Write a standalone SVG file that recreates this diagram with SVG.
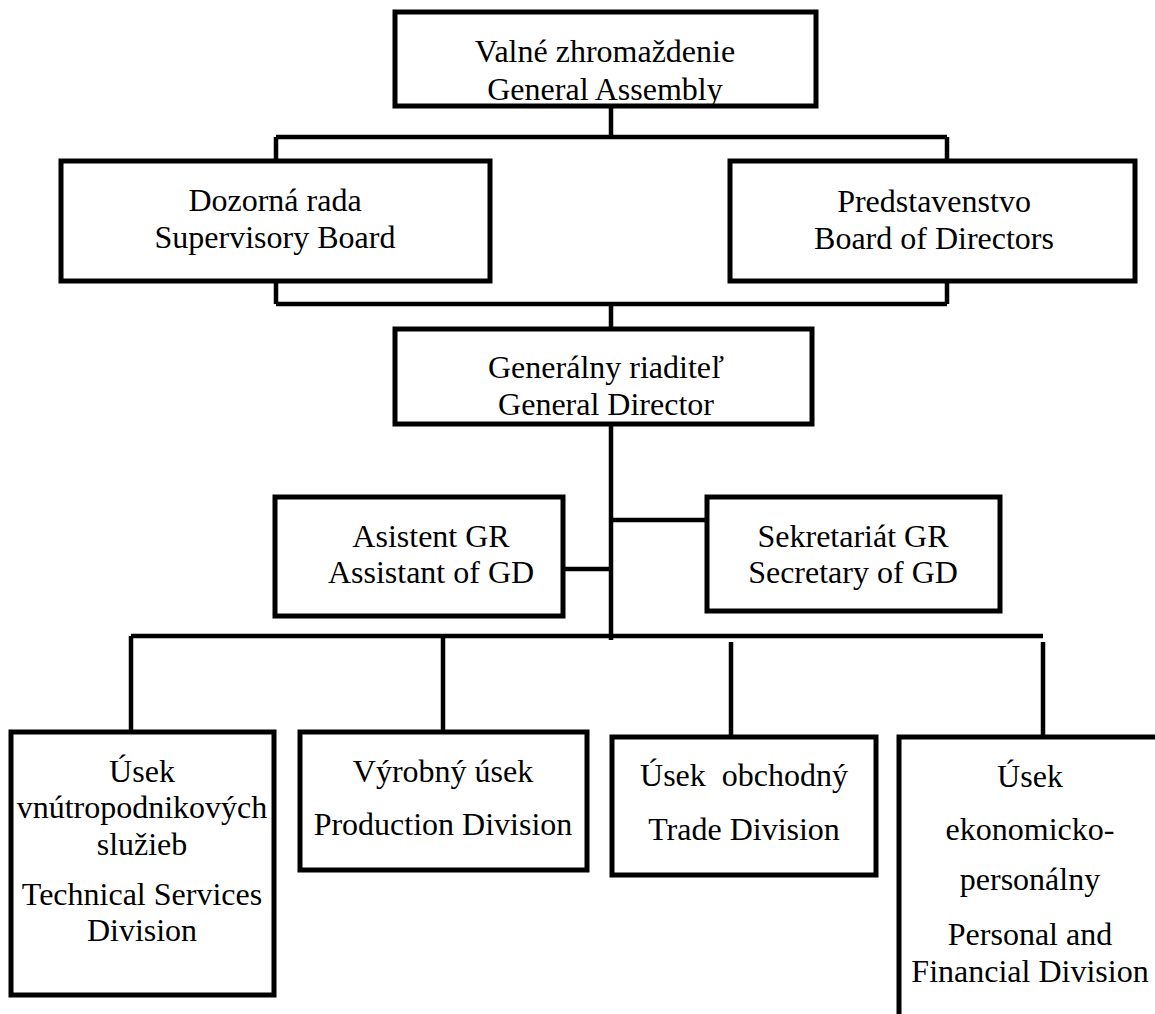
<svg xmlns="http://www.w3.org/2000/svg" width="1155" height="1014" viewBox="0 0 1155 1014" font-family="'Liberation Serif', 'DejaVu Serif', serif">
<style>
.box{fill:#fff;stroke:#000;stroke-width:5}
.c{fill:none;stroke:#000;stroke-width:4.5}
text{font-family:'Liberation Serif', 'DejaVu Serif', serif;font-size:32px;fill:#000;text-anchor:middle}
</style>
<rect width="1155" height="1014" fill="#fff"/>
<g id="connectors">
<path class="c" d="M611 106V137M276 137H947M276 137V161M947 137V161"/>
<path class="c" d="M276 281V304M947 281V304M276 304H947M611 304V329"/>
<path class="c" d="M611 424V640M563 569H611M611 520H707"/>
<path class="c" d="M131 636H1043M131 636V732M443 636V732M731 642V737M1043 642V737"/>
</g>
<g id="general-assembly">
<rect class="box" x="395" y="12" width="421" height="94"/>
<text x="605" y="62" font-family="Liberation Serif, serif">Valné zhromaždenie</text>
<text x="605" y="100" font-family="Liberation Serif, serif">General Assembly</text>
</g>
<g id="supervisory-board">
<rect class="box" x="61" y="161" width="429" height="120"/>
<text x="275" y="211">Dozorná rada</text>
<text x="275" y="248">Supervisory Board</text>
</g>
<g id="board-of-directors">
<rect class="box" x="730" y="161" width="405" height="120"/>
<text x="934" y="212">Predstavenstvo</text>
<text x="934" y="249">Board of Directors</text>
</g>
<g id="general-director">
<rect class="box" x="395" y="329" width="417" height="95"/>
<text x="606" y="378">Generálny riaditeľ</text>
<text x="606" y="415">General Director</text>
</g>
<g id="assistant">
<rect class="box" x="275" y="497" width="288" height="119"/>
<text x="431" y="547">Asistent GR</text>
<text x="431" y="583">Assistant of GD</text>
</g>
<g id="secretary">
<rect class="box" x="707" y="497" width="293" height="114"/>
<text x="853" y="547">Sekretariát GR</text>
<text x="853" y="583">Secretary of GD</text>
</g>
<g id="technical-services">
<rect class="box" x="11" y="732" width="263" height="263"/>
<text x="142" y="782">Úsek</text>
<text x="142" y="818">vnútropodnikových</text>
<text x="142" y="855">služieb</text>
<text x="142" y="905">Technical Services</text>
<text x="142" y="941">Division</text>
</g>
<g id="production">
<rect class="box" x="300" y="732" width="287" height="138"/>
<text x="443" y="782">Výrobný úsek</text>
<text x="443" y="835">Production Division</text>
</g>
<g id="trade">
<rect class="box" x="612" y="737" width="264" height="138"/>
<text x="744" y="786">Úsek&#160; obchodný</text>
<text x="744" y="840">Trade Division</text>
</g>
<g id="personal-financial">
<rect class="box" x="899" y="737" width="270" height="300"/>
<text x="1030" y="787">Úsek</text>
<text x="1030" y="840">ekonomicko-</text>
<text x="1030" y="890">personálny</text>
<text x="1030" y="945">Personal and</text>
<text x="1030" y="982">Financial Division</text>
</g>
</svg>
